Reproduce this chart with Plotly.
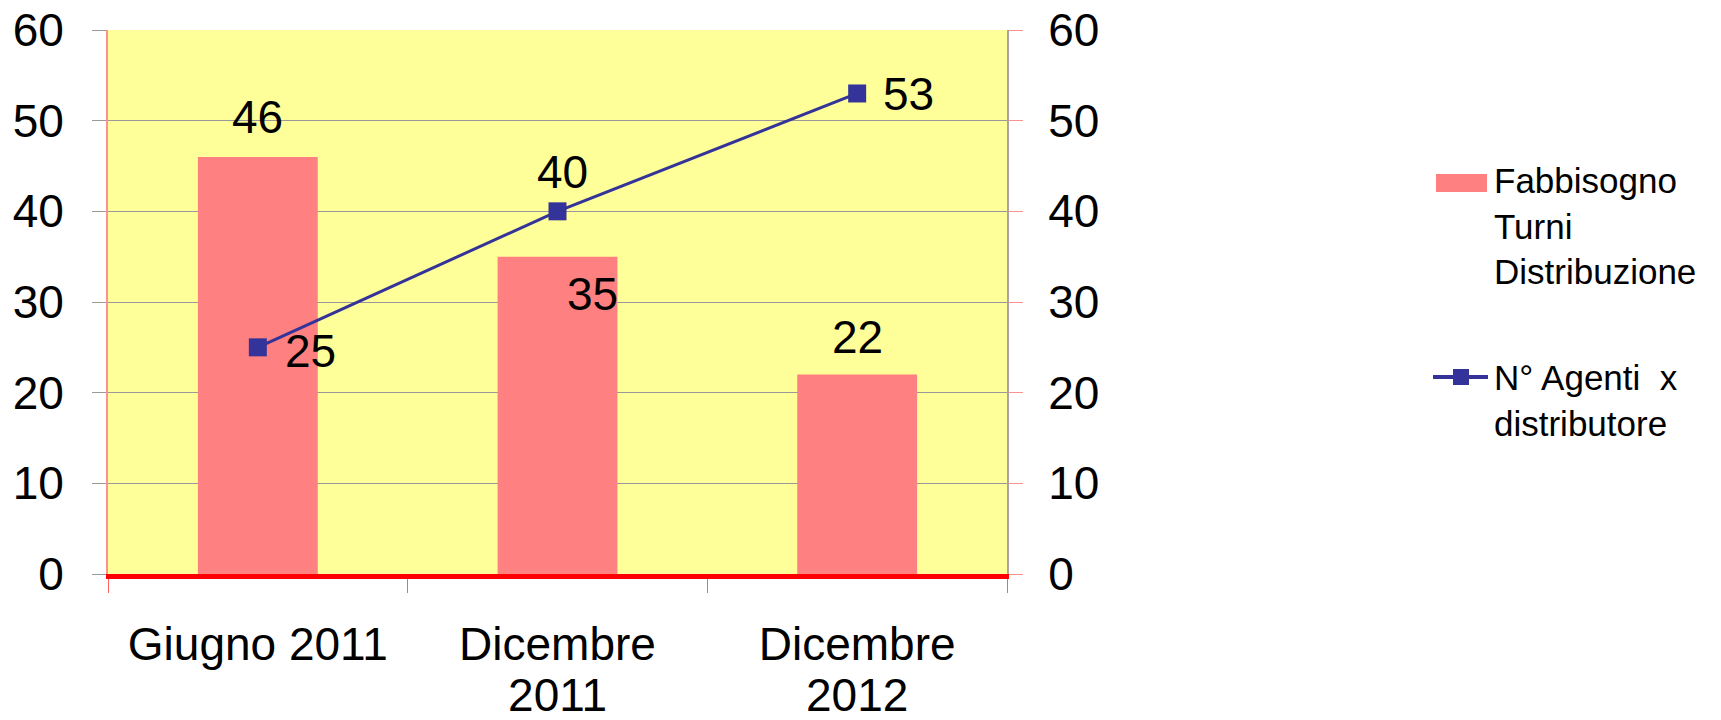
import plotly.graph_objects as go

categories = ["Giugno 2011", "Dicembre<br>2011", "Dicembre<br>2012"]
fabbisogno = [46, 35, 22]
agenti = [25, 40, 53]
bar_name = "Fabbisogno<br>Turni<br>Distribuzione"
line_name = "N° Agenti  x<br>distributore"

FONT = "Liberation Sans, Arial, sans-serif"
BAR_COLOR = "#FF8080"
LINE_COLOR = "#333399"

W, H = 1721, 720
PL, PR, PT, PB = 108, 1007, 30, 574  # plot box in px
PW, PH = PR - PL, PB - PT

def px(x):  # pixel x -> paper fraction
    return (x - PL) / PW

def py(y):  # pixel y -> paper fraction
    return (PB - y) / PH

# tick labels: big glyphs, tighter line spacing
ticktext = ["<br>".join('<span style="font-size:46px">%s</span>' % s for s in c.split("<br>"))
            for c in categories]

fig = go.Figure()
fig.add_trace(go.Bar(
    x=categories, y=fabbisogno, name=bar_name,
    marker=dict(color=BAR_COLOR, line=dict(width=0)),
    width=0.4,
))
fig.add_trace(go.Scatter(
    x=categories, y=agenti, name=line_name, yaxis="y2",
    mode="lines+markers",
    line=dict(color=LINE_COLOR, width=3),
    marker=dict(symbol="square", size=18, color=LINE_COLOR),
))

# data labels
bar_shifts = [(0, 40), (35, -37), (0, 38)]
for c, v, (dx, dy) in zip(categories, fabbisogno, bar_shifts):
    fig.add_annotation(x=c, y=v, text=str(v), showarrow=False, xshift=dx, yshift=dy,
                       font=dict(size=46, color="black", family=FONT))
line_shifts = [(53, -4), (5, 39), (51, -1)]
for c, v, (dx, dy) in zip(categories, agenti, line_shifts):
    fig.add_annotation(x=c, y=v, text=str(v), showarrow=False, xshift=dx, yshift=dy,
                       yref="y2", font=dict(size=46, color="black", family=FONT))

# custom legend
fig.add_shape(type="rect", xref="paper", yref="paper",
              x0=px(1436), x1=px(1487), y0=py(192), y1=py(174),
              fillcolor=BAR_COLOR, line=dict(width=0))
fig.add_shape(type="line", xref="paper", yref="paper",
              x0=px(1433), x1=px(1488), y0=py(377), y1=py(377),
              line=dict(color=LINE_COLOR, width=4))
fig.add_shape(type="rect", xref="paper", yref="paper",
              x0=px(1453), x1=px(1469), y0=py(385), y1=py(369),
              fillcolor=LINE_COLOR, line=dict(width=0))
fig.add_annotation(xref="paper", yref="paper", x=px(1492), y=py(159),
                   xanchor="left", yanchor="top", align="left", showarrow=False,
                   text=bar_name, font=dict(size=35, family=FONT, color="black"))
fig.add_annotation(xref="paper", yref="paper", x=px(1492), y=py(356),
                   xanchor="left", yanchor="top", align="left", showarrow=False,
                   text=line_name, font=dict(size=35, family=FONT, color="black"))

fig.update_layout(
    width=W, height=H,
    margin=dict(l=PL, r=W - PR, t=PT, b=H - PB, autoexpand=False),
    paper_bgcolor="white", plot_bgcolor="#FFFF99",
    font=dict(family=FONT, size=46, color="black"),
    showlegend=False,
    xaxis=dict(
        automargin=False,
        tickmode="array", tickvals=categories, ticktext=ticktext,
        showline=True, linecolor="#FF0000", linewidth=5,
        ticks="outside", tickson="boundaries", ticklen=14, tickcolor="#FF6060",
        tickfont=dict(size=39), ticklabelstandoff=34,
        ticklabeloverflow="allow",
    ),
    yaxis=dict(
        automargin=False,
        range=[0, 60], dtick=10, showgrid=True, gridcolor="#999999", gridwidth=1,
        ticks="outside", ticklen=14, tickcolor="#999999",
        showline=True, linecolor="#FF9090", linewidth=2,
        tickfont=dict(size=46), zeroline=False, ticklabelstandoff=19,
        ticklabeloverflow="allow",
    ),
    yaxis2=dict(
        automargin=False,
        range=[0, 60], dtick=10, overlaying="y", side="right", showgrid=False,
        ticks="outside", ticklen=14, tickcolor="#FF9090",
        showline=True, linecolor="#B0A0A0", linewidth=2,
        tickfont=dict(size=46), zeroline=False, ticklabelstandoff=16,
        ticklabeloverflow="allow",
    ),
)

# remove the default page margin so the 1721x720 figure fills the window exactly
fig.write_html("out.html",
               config={"displayModeBar": False},
               post_script="document.body.style.margin='0';document.body.style.overflow='hidden';")
